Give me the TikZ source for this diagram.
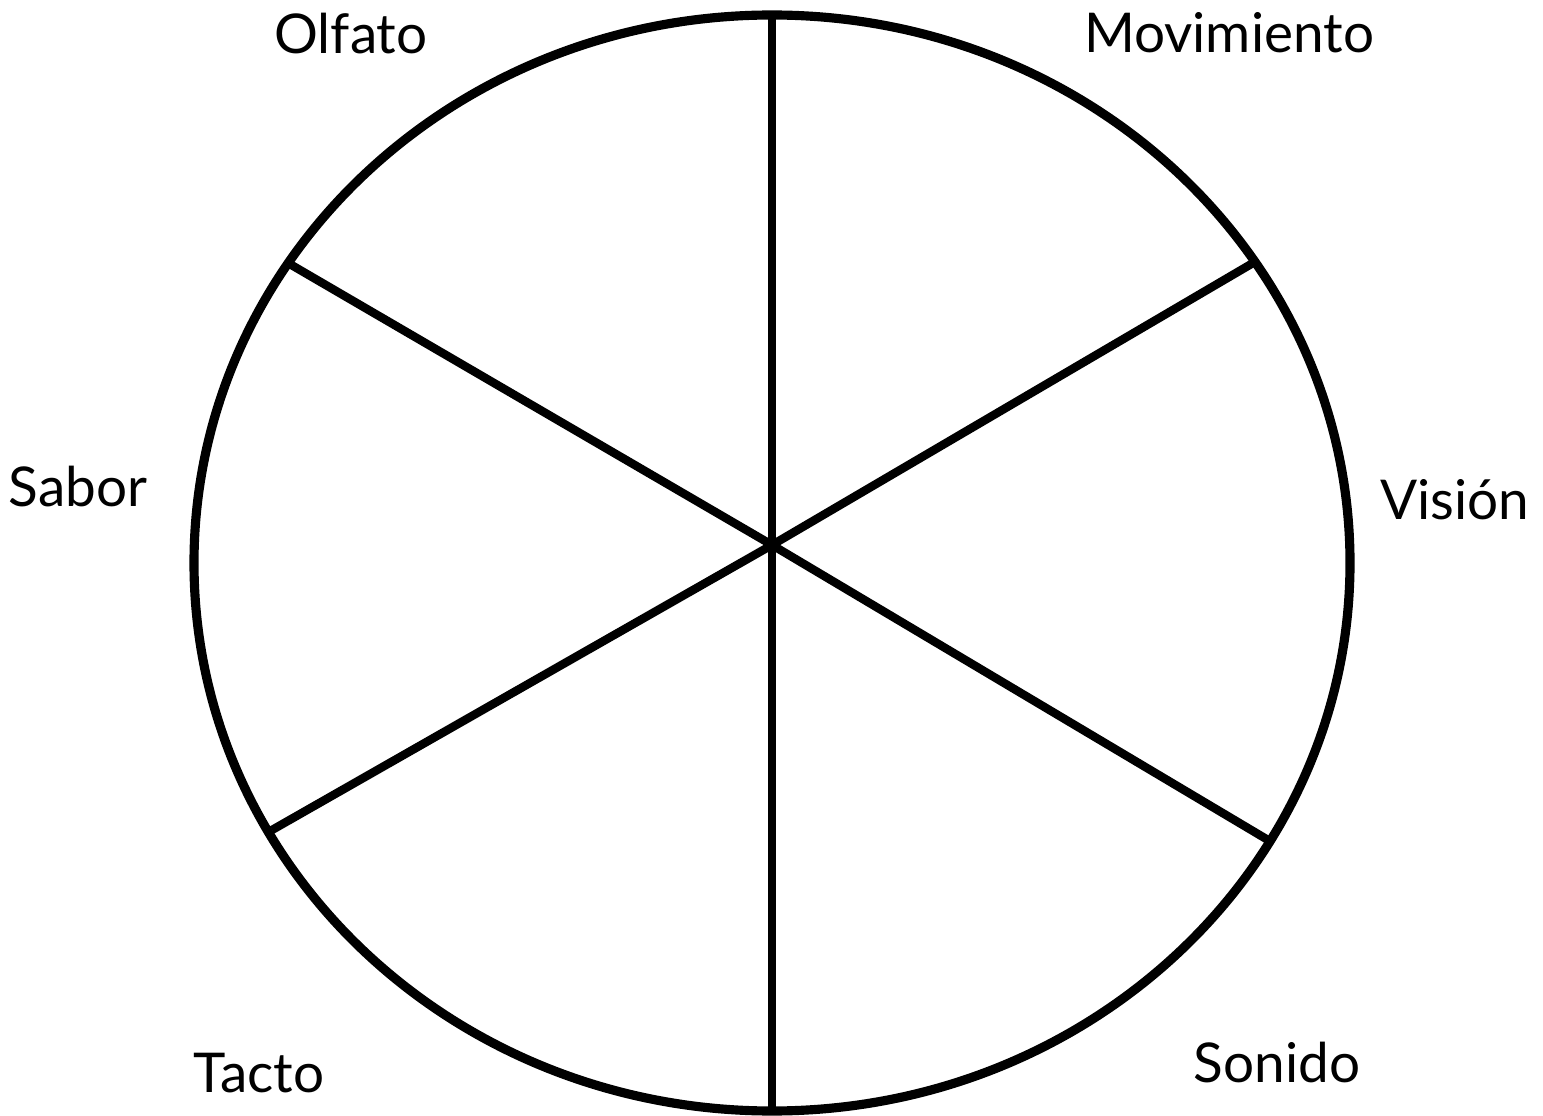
\documentclass[tikz,border=0pt]{standalone}
\usepackage{fontspec}
\setmainfont{Lato}
\usetikzlibrary{positioning}

\begin{document}
\begin{tikzpicture}[
  x=0.01cm, y=-0.01cm,
  font=\fontsize{15.6}{18}\selectfont,
  rim/.style={line width=2.6pt, draw=black},
  spoke/.style={line width=2.4pt, draw=black, line cap=butt},
  sense/.style={inner sep=0pt, anchor=base, text=black}
]
\useasboundingbox (0,0) rectangle (1543,1116);

% Wheel outline and hub.
\draw[rim] (772,563) ellipse [x radius=578, y radius=548];
\coordinate (hub) at (772,545);

% Rim points of the six spokes.
\coordinate (top)    at (772,15);
\coordinate (bottom) at (772,1111);
\coordinate (ul)     at (288,263);
\coordinate (ur)     at (1253,263);
\coordinate (ll)     at (272,830);
\coordinate (lr)     at (1268,840);

\draw[spoke] (hub) -- (top);
\draw[spoke] (hub) -- (bottom);
\draw[spoke] (hub) -- (ul);
\draw[spoke] (hub) -- (ur);
\draw[spoke] (hub) -- (ll);
\draw[spoke] (hub) -- (lr);

% Sense labels.
\node[sense] (olfato)     at (351,54)   {Olfato};
\node[sense] (movimiento) at (1229,53)  {Movimiento};
\node[sense] (sabor)      at (78,507)   {Sabor};
\node[sense] (vision)     at (1455,520) {Visión};
\node[sense] (tacto)      at (259,1092) {Tacto};
\node[sense] (sonido)     at (1277,1082){Sonido};

\end{tikzpicture}
\end{document}
